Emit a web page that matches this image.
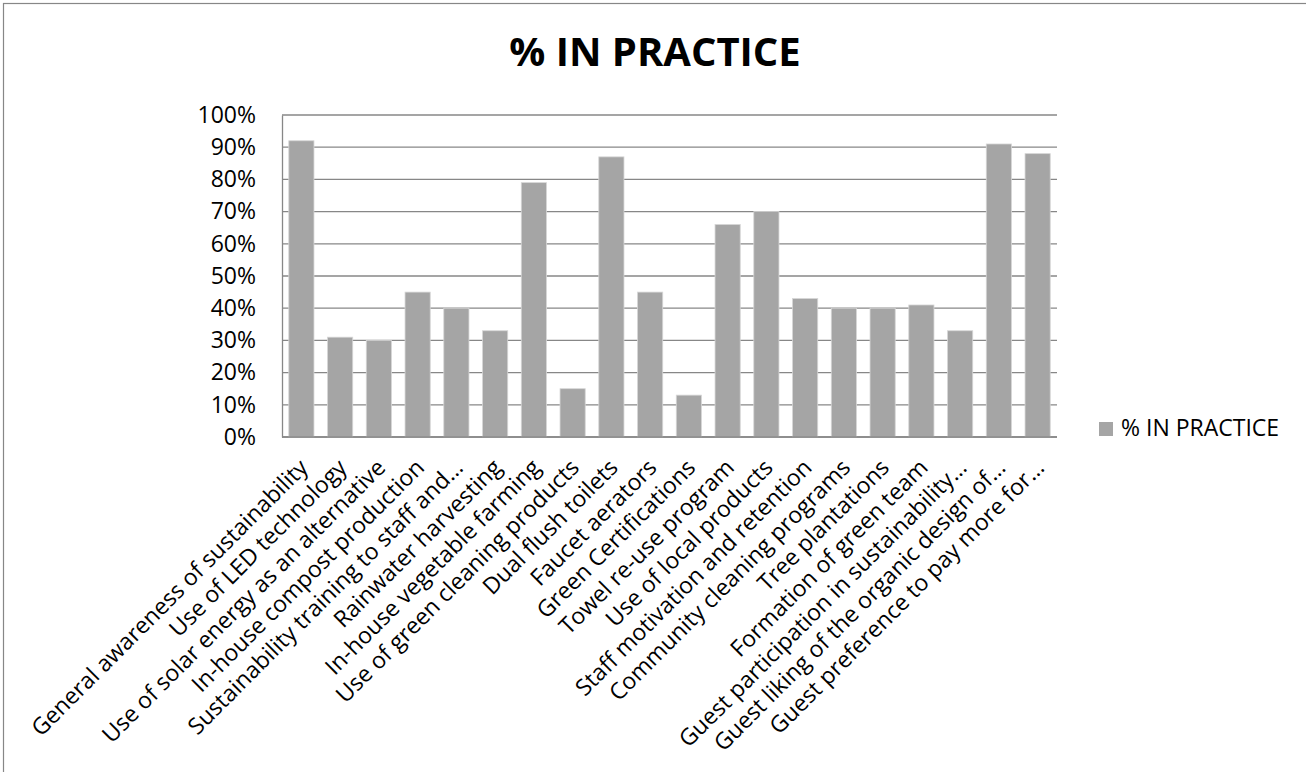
<!DOCTYPE html>
<html>
<head>
<meta charset="utf-8">
<script src="https://cdn.jsdelivr.net/npm/d3@7"></script>
<style>
  html, body { margin: 0; padding: 0; background: #fff; overflow: hidden; }
  #svg-container { width: 1306px; height: 772px; }
  text { font-family: "Open Sans", "Noto Sans", sans-serif; fill: #000; }
</style>
</head>
<body>
<div id="svg-container"></div>
<script>
////////////////////////////////////////////////////////////////////
////////////////////////////  Data  ////////////////////////////////
const categories = [
  "General awareness of sustainability",
  "Use of LED technology",
  "Use of solar energy as an alternative",
  "In-house compost production",
  "Sustainability training to staff and…",
  "Rainwater harvesting",
  "In-house vegetable farming",
  "Use of green cleaning products",
  "Dual flush toilets",
  "Faucet aerators",
  "Green Certifications",
  "Towel re-use program",
  "Use of local products",
  "Staff motivation and retention",
  "Community cleaning programs",
  "Tree plantations",
  "Formation of green team",
  "Guest participation in sustainability…",
  "Guest liking of the organic design of…",
  "Guest preference to pay more for…",
];
const inPractice = [
  0.92, 0.31, 0.3, 0.45, 0.4, 0.33, 0.79, 0.15, 0.87, 0.45,
  0.13, 0.66, 0.7, 0.43, 0.4, 0.4, 0.41, 0.33, 0.91, 0.88,
];
const yTicks = [0, 0.1, 0.2, 0.3, 0.4, 0.5, 0.6, 0.7, 0.8, 0.9, 1];
const seriesName = "% IN PRACTICE";
const chartTitle = "% IN PRACTICE";

////////////////////////////////////////////////////////////////////
////////////////////////////  Init  ///////////////////////////////
const width = 1306;
const height = 772;
const margin = { top: 115, right: 249, bottom: 335, left: 282 };

const svg = d3
  .select("#svg-container")
  .append("svg")
  .attr("width", width)
  .attr("height", height);

const data = categories.map((c, i) => ({ name: c, value: inPractice[i] }));

// scale
const xScale = d3
  .scaleBand()
  .domain(categories)
  .range([margin.left, width - margin.right])
  .paddingInner(0.35)
  .paddingOuter(0.175);
const yScale = d3
  .scaleLinear()
  .domain([0, 1])
  .range([height - margin.bottom, margin.top]);

const gridColor = "#878787";
const barColor = "#a5a5a5";

// outer frame (runs off the right and bottom edges, like the source)
svg
  .append("rect")
  .attr("x", 3.5)
  .attr("y", 3.5)
  .attr("width", width + 10)
  .attr("height", height + 10)
  .attr("fill", "none")
  .attr("stroke", gridColor)
  .attr("stroke-width", 1.2);

// title
svg
  .append("text")
  .attr("x", 655)
  .attr("y", 66)
  .attr("text-anchor", "middle")
  .style("font-size", "40px")
  .style("font-weight", "700")
  .text(chartTitle);

// grid lines
svg
  .append("g")
  .attr("class", "grid")
  .selectAll("line")
  .data(yTicks)
  .enter()
  .append("line")
  .attr("x1", margin.left)
  .attr("x2", width - margin.right)
  .attr("y1", (d) => yScale(d))
  .attr("y2", (d) => yScale(d))
  .attr("stroke", gridColor)
  .attr("stroke-width", 1.3);

// y axis
const yAxis = d3
  .axisLeft(yScale)
  .tickValues(yTicks)
  .tickFormat(d3.format(".0%"))
  .tickSize(0)
  .tickPadding(26);

svg
  .append("g")
  .attr("class", "y-axis")
  .attr("transform", `translate(${margin.left}, 0)`)
  .call(yAxis)
  .call((g) => g.select(".domain").attr("stroke", gridColor).attr("stroke-width", 1.3))
  .call((g) =>
    g
      .selectAll("text")
      .style("font-size", "23px")
      .style("font-family", "'Open Sans', sans-serif")
      .attr("fill", "#000")
  );

// bars
svg
  .selectAll(".bar")
  .data(data)
  .enter()
  .append("rect")
  .attr("class", "bar")
  .attr("x", (d) => xScale(d.name))
  .attr("y", (d) => yScale(d.value))
  .attr("width", xScale.bandwidth())
  .attr("height", (d) => yScale(0) - yScale(d.value))
  .attr("fill", barColor)
  .attr("stroke", "#d6d6d6")
  .attr("stroke-width", 0.8);

// x axis line
svg
  .append("line")
  .attr("x1", margin.left)
  .attr("x2", width - margin.right)
  .attr("y1", yScale(0))
  .attr("y2", yScale(0))
  .attr("stroke", gridColor)
  .attr("stroke-width", 1.3);

// x labels (rotated)
svg
  .selectAll(".x-label")
  .data(categories)
  .enter()
  .append("text")
  .attr("class", "x-label")
  .attr("text-anchor", "end")
  .attr(
    "transform",
    (d) =>
      `translate(${xScale(d) + xScale.bandwidth() / 2 + 8}, ${yScale(0) + 32}) rotate(-45)`
  )
  .style("font-size", "23px")
  .text((d) => d);

// legend
const legend = svg.append("g").attr("class", "legend");
legend
  .append("rect")
  .attr("x", 1099)
  .attr("y", 422)
  .attr("width", 14)
  .attr("height", 14)
  .attr("fill", barColor);
legend
  .append("text")
  .attr("x", 1121)
  .attr("y", 436)
  .style("font-size", "23px")
  .text(seriesName);
</script>
</body>
</html>
